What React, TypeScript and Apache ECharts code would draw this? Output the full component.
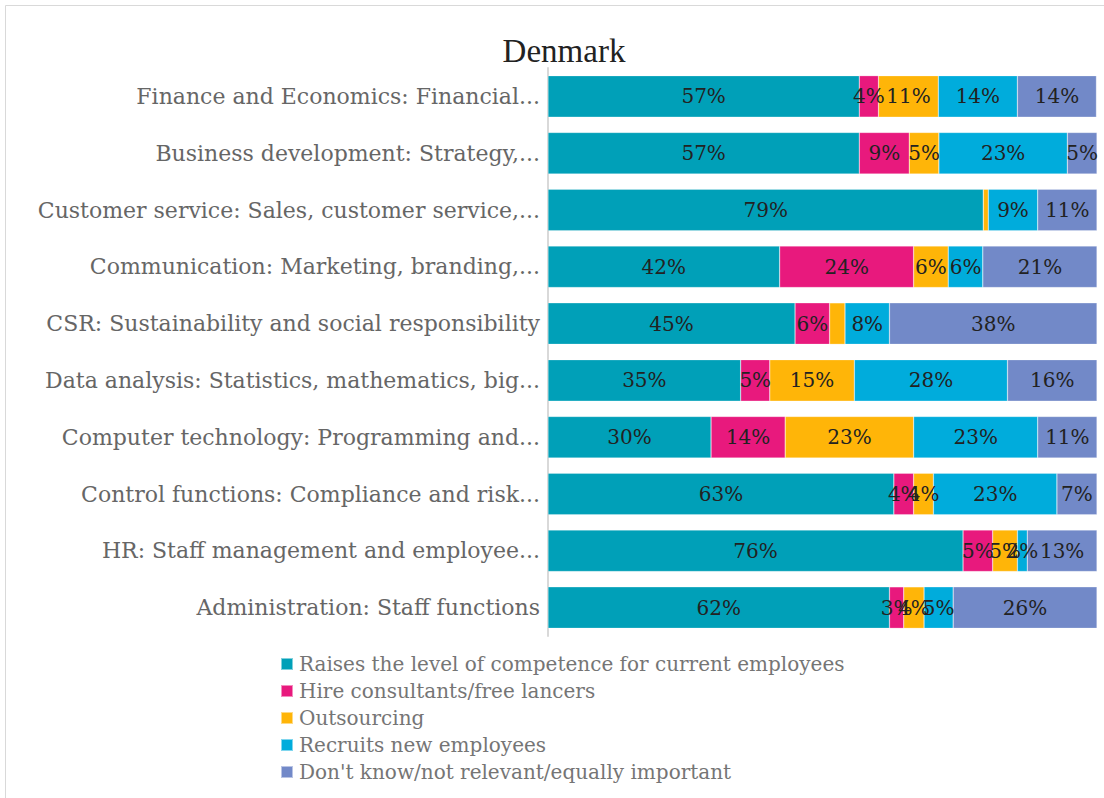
import React, { useEffect, useRef } from "react";
import * as echarts from "echarts";

const categories = [
  "Finance and Economics: Financial...",
  "Business development: Strategy,...",
  "Customer service: Sales, customer service,...",
  "Communication: Marketing, branding,...",
  "CSR: Sustainability and social responsibility",
  "Data analysis: Statistics, mathematics, big...",
  "Computer technology: Programming and...",
  "Control functions: Compliance and risk...",
  "HR: Staff management and employee...",
  "Administration: Staff functions",
];

const seriesNames = [
  "Raises the level of competence for current employees",
  "Hire consultants/free lancers",
  "Outsourcing",
  "Recruits new employees",
  "Don't know/not relevant/equally important",
];

// shares in percent (labels show rounded values)
const raises = [56.7, 56.7, 79.3, 42.2, 45.0, 35.1, 29.7, 63.0, 75.6, 62.2];
const consultants = [3.5, 9.1, 0, 24.4, 6.3, 5.3, 13.5, 3.6, 5.4, 2.6];
const outsourcing = [10.9, 5.4, 0.9, 6.3, 2.8, 15.4, 23.4, 3.6, 4.5, 3.7];
const recruits = [14.4, 23.4, 9.0, 6.3, 8.1, 27.9, 22.6, 22.5, 1.8, 5.3];
const dontKnow = [14.4, 5.4, 10.8, 20.8, 37.8, 16.3, 10.8, 7.3, 12.7, 26.2];

// labels not shown in the reference (seriesIndex-categoryIndex)
const hiddenLabels = ["1-2", "2-2", "2-4"];

const colors = ["#00A0B8", "#E8197D", "#FFB508", "#00ACDC", "#7289C8"];

export default function App() {
  const ref = useRef<HTMLDivElement>(null);
  useEffect(() => {
    if (!ref.current) return;
    const chart = echarts.init(ref.current, null, { renderer: "svg" });
    const all = [raises, consultants, outsourcing, recruits, dontKnow];
    const serif = "'DejaVu Serif', serif";
    chart.setOption({
      animation: false,
      color: colors,
      title: {
        text: "Denmark",
        left: 559,
        textAlign: "center",
        top: 29,
        textStyle: { fontFamily: "'Liberation Serif', serif", fontSize: 33, fontWeight: "normal", color: "#222" },
      },
      graphic: [
        {
          type: "rect",
          shape: { x: 5.5, y: 5.5, width: 1110, height: 800 },
          style: { fill: "none", stroke: "#d9d9d9", lineWidth: 1 },
          silent: true,
        },
      ],
      legend: {
        orient: "vertical",
        left: 275,
        top: 649,
        itemWidth: 12,
        itemHeight: 12,
        itemGap: 7,
        icon: "rect",
        textStyle: { fontFamily: serif, fontSize: 20, color: "#757575", padding: [0, 0, 0, 1] },
        data: seriesNames,
      },
      grid: { left: 548, right: 7, top: 68, bottom: 798 - 636 },
      xAxis: {
        type: "value",
        min: 0,
        max: 100,
        show: false,
      },
      yAxis: {
        type: "category",
        data: categories,
        inverse: true,
        axisLine: { show: true, lineStyle: { color: "#d9d9d9", width: 2 } },
        axisTick: { show: false },
        axisLabel: { fontFamily: serif, fontSize: 22, color: "#666", margin: 8 },
      },
      series: all.map((vals, si) => ({
        name: seriesNames[si],
        type: "bar",
        stack: "total",
        barWidth: "73%",
        itemStyle: { borderColor: "rgba(255,255,255,0.5)", borderWidth: 0.5 },
        label: {
          show: true,
          position: "inside",
          fontFamily: serif,
          fontSize: 20,
          color: "#222",
          formatter: (p: any) => (p.value > 0 ? Math.round(p.value) + "%" : ""),
        },
        data: vals.map((v, ci) =>
          hiddenLabels.includes(si + "-" + ci) ? { value: v, label: { show: false } } : v
        ),
      })),
    });
    return () => chart.dispose();
  }, []);
  return (
    <div
      ref={ref}
      style={{ position: "fixed", left: 0, top: 0, width: 1104, height: 798, background: "#fff" }}
    />
  );
}
